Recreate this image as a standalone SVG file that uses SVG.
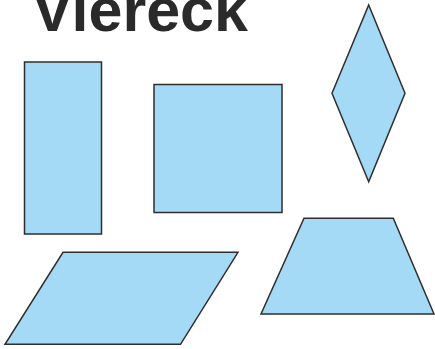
<svg xmlns="http://www.w3.org/2000/svg" width="435" height="349" viewBox="0 0 435 349">
<style>
.s{fill:#a4daf6;stroke:#2e2e2e;stroke-width:1.5;stroke-linejoin:miter}
.t{font-family:"Liberation Sans",Arial,sans-serif;font-weight:bold;font-size:61px;fill:#2a2a2a}
</style>
<rect width="435" height="349" fill="#ffffff"/>
<text class="t" x="32" y="31">Viereck</text>
<g id="rechteck"><rect class="s" x="24.5" y="62" width="77" height="172"/></g>
<g id="quadrat"><rect class="s" x="154" y="84.5" width="128" height="128"/></g>
<g id="raute"><polygon class="s" points="368.7,5 405,93.3 368.7,181.7 332,93.3"/></g>
<g id="parallelogramm"><polygon class="s" points="63,252.3 238,252.3 180.5,344.3 5,344.3"/></g>
<g id="trapez"><polygon class="s" points="304,218.3 393.3,218.3 434,314 261,314"/></g>
<g id="connectors"/>
</svg>
